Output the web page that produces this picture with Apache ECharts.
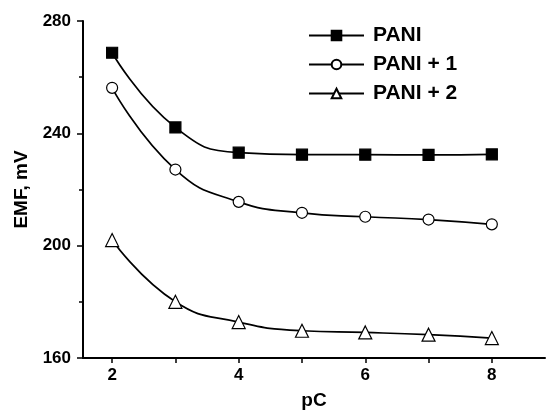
<!DOCTYPE html>
<html>
<head>
<meta charset="utf-8">
<script src="https://cdn.jsdelivr.net/npm/echarts@6/dist/echarts.min.js"></script>
<style>
  html, body { margin: 0; padding: 0; background: #fff; }
  #main { width: 547px; height: 415px; }
</style>
</head>
<body>
<div id="main"></div>
<script>
// pC values on the x axis
var pC = [2, 3, 4, 5, 6, 7, 8];
// EMF readings, mV
var pani = [268.7, 242.1, 233.1, 232.4, 232.4, 232.3, 232.5];
var pani1 = [256.2, 227.1, 215.6, 211.7, 210.3, 209.3, 207.6];
var pani2 = [202.0, 180.0, 172.8, 169.7, 169.1, 168.3, 167.1];
var seriesNames = ['PANI', 'PANI + 1', 'PANI + 2'];
var xTicks = [2, 3, 4, 5, 6, 7, 8];
var xLabels = [2, 4, 6, 8];

function pairs(ys) {
  return pC.map(function (x, i) { return [x, ys[i]]; });
}

var myChart = echarts.init(document.getElementById('main'));

var font = 'Liberation Sans, Arial, sans-serif';

function makeSeries(name, ys, symbol, size, fill) {
  return {
    name: name,
    type: 'line',
    data: pairs(ys),
    smooth: 0.5,
    symbol: symbol,
    symbolSize: size,
    showAllSymbol: true,
    lineStyle: { color: '#000', width: 1.7 },
    itemStyle: { color: fill, borderColor: '#000', borderWidth: 1.2 },
    emphasis: { disabled: true },
    z: 3
  };
}

var option = {
  backgroundColor: '#fff',
  animation: false,
  textStyle: { fontFamily: font },
  grid: { left: 83, top: 21, right: 2, bottom: 56 },
  legend: {
    orient: 'vertical',
    left: 303,
    top: 20,
    itemWidth: 55,
    itemHeight: 12,
    itemGap: 8,
    data: seriesNames,
    textStyle: { fontFamily: font, fontSize: 21, fontWeight: 'bold', color: '#000', padding: [0, 0, 0, 4] }
  },
  xAxis: {
    type: 'value',
    min: 1.54,
    max: 8.84,
    name: 'pC',
    nameLocation: 'middle',
    nameGap: 33,
    nameTextStyle: { fontFamily: font, fontSize: 19, fontWeight: 'bold', color: '#000' },
    axisLine: { lineStyle: { color: '#000', width: 2 } },
    axisTick: { show: true, inside: false, length: 5, customValues: xTicks, lineStyle: { color: '#000', width: 1.5 } },
    axisLabel: { customValues: xLabels, margin: 9, fontFamily: font, fontSize: 17, fontWeight: 'bold', color: '#000' },
    splitLine: { show: false }
  },
  yAxis: {
    type: 'value',
    min: 160,
    max: 280,
    interval: 40,
    name: 'EMF, mV',
    nameLocation: 'middle',
    nameGap: 52,
    nameTextStyle: { fontFamily: font, fontSize: 19, fontWeight: 'bold', color: '#000' },
    axisLine: { show: true, lineStyle: { color: '#000', width: 2 } },
    axisTick: { show: true, inside: false, length: 6, lineStyle: { color: '#000', width: 1.5 } },
    minorTick: { show: true, splitNumber: 2, length: 4, lineStyle: { color: '#000', width: 1.5 } },
    axisLabel: { margin: 12, fontFamily: font, fontSize: 17, fontWeight: 'bold', color: '#000' },
    splitLine: { show: false }
  },
  series: [
    makeSeries(seriesNames[0], pani, 'rect', 11, '#000'),
    makeSeries(seriesNames[1], pani1, 'circle', 11, '#fff'),
    makeSeries(seriesNames[2], pani2, 'triangle', 13, '#fff')
  ]
};

myChart.setOption(option);
</script>
</body>
</html>
